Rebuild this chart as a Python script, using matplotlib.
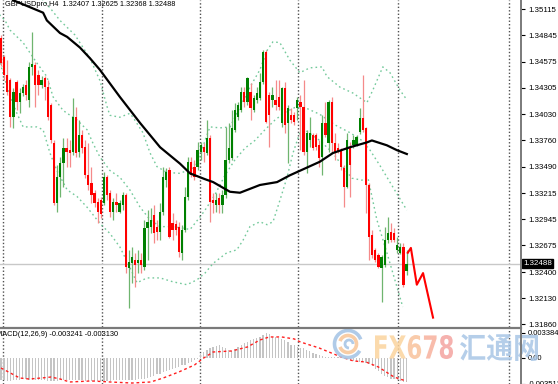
import numpy as np
import matplotlib
matplotlib.use("Agg")
from matplotlib import pyplot as plt
from matplotlib.lines import Line2D
from matplotlib.patches import PathPatch, Rectangle, Arc
from matplotlib.textpath import TextPath
from matplotlib.font_manager import FontProperties
from matplotlib.transforms import Affine2D, IdentityTransform

plt.rcParams['font.family'] = ['Liberation Sans', 'DejaVu Sans']

# GBPUSD H4 candles (open, high, low, close)
opens = [1.3482, 1.3462, 1.3444, 1.3438, 1.3400, 1.3436, 1.3416, 1.3425, 1.3433, 1.3418,
         1.3452, 1.3454, 1.3444, 1.3433, 1.3441, 1.3431, 1.3413, 1.3373, 1.3311, 1.3338,
         1.3353, 1.3368, 1.3366, 1.3364, 1.3400, 1.3364, 1.3382, 1.3369, 1.3340, 1.3332,
         1.3322, 1.3312, 1.3314, 1.3311, 1.3338, 1.3322, 1.3302, 1.3312, 1.3302, 1.3309,
         1.3320, 1.3244, 1.3249, 1.3253, 1.3249, 1.3253, 1.3245, 1.3286, 1.3287, 1.3299,
         1.3287, 1.3281, 1.3302, 1.3335, 1.3345, 1.3291, 1.3290, 1.3287, 1.3260, 1.3284,
         1.3318, 1.3354, 1.3349, 1.3349, 1.3364, 1.3369, 1.3363, 1.3379, 1.3314, 1.3309,
         1.3317, 1.3309, 1.3320, 1.3356, 1.3358, 1.3387, 1.3400, 1.3407, 1.3426, 1.3416,
         1.3426, 1.3407, 1.3418, 1.3420, 1.3436, 1.3467, 1.3423, 1.3418, 1.3418, 1.3421,
         1.3394, 1.3430, 1.3394, 1.3402, 1.3402, 1.3410, 1.3416, 1.3411, 1.3364, 1.3376,
         1.3382, 1.3382, 1.3371, 1.3359, 1.3394, 1.3373, 1.3416, 1.3373, 1.3368, 1.3366,
         1.3348, 1.3328, 1.3369, 1.3371, 1.3371, 1.3385, 1.3399, 1.3389, 1.3330, 1.3278,
         1.3263, 1.3258, 1.3244, 1.3247, 1.3273, 1.3281, 1.3280, 1.3263, 1.3260, 1.3266,
         1.32407]
highs = [1.3485, 1.3464, 1.3459, 1.3441, 1.3430, 1.3438, 1.3430, 1.3434, 1.3438, 1.3457,
         1.3488, 1.3457, 1.3449, 1.3443, 1.3443, 1.3438, 1.3415, 1.3376, 1.3351, 1.3359,
         1.3379, 1.3379, 1.3376, 1.3420, 1.3411, 1.3397, 1.3387, 1.3376, 1.3373, 1.3349,
         1.3325, 1.3317, 1.3318, 1.3343, 1.3340, 1.3325, 1.3317, 1.3322, 1.3314, 1.3323,
         1.3322, 1.3263, 1.3266, 1.3260, 1.3263, 1.3260, 1.3294, 1.3304, 1.3306, 1.3309,
         1.3294, 1.3311, 1.3349, 1.3348, 1.3349, 1.3301, 1.3294, 1.3292, 1.3289, 1.3328,
         1.3359, 1.3359, 1.3356, 1.3374, 1.3374, 1.3373, 1.3397, 1.3382, 1.3322, 1.3322,
         1.3322, 1.3325, 1.3390, 1.3394, 1.3407, 1.3415, 1.3416, 1.3431, 1.3431, 1.3442,
         1.3435, 1.3423, 1.3431, 1.3446, 1.3469, 1.3469, 1.3426, 1.3431, 1.3438, 1.3438,
         1.3431, 1.3436, 1.3413, 1.3410, 1.3405, 1.3421, 1.3423, 1.3438, 1.3387, 1.3400,
         1.3384, 1.3384, 1.3376, 1.3402, 1.3416, 1.3418, 1.3421, 1.3384, 1.3373, 1.3368,
         1.3351, 1.3384, 1.3374, 1.3382, 1.3382, 1.3410, 1.3444, 1.3390, 1.3332, 1.3284,
         1.3265, 1.3260, 1.3258, 1.3287, 1.3297, 1.3291, 1.3286, 1.3276, 1.3270, 1.3270,
         1.32625]
lows = [1.3453, 1.3438, 1.3423, 1.3390, 1.3389, 1.3407, 1.3404, 1.3422, 1.3418, 1.3411,
        1.3444, 1.3411, 1.3423, 1.3430, 1.3418, 1.3397, 1.3373, 1.3309, 1.3302, 1.3318,
        1.3328, 1.3349, 1.3349, 1.3361, 1.3359, 1.3359, 1.3363, 1.3337, 1.3325, 1.3311,
        1.3307, 1.3291, 1.3296, 1.3309, 1.3314, 1.3297, 1.3294, 1.3302, 1.3301, 1.3304,
        1.3239, 1.3203, 1.3229, 1.3225, 1.3239, 1.3239, 1.3242, 1.3253, 1.3280, 1.3270,
        1.3273, 1.3273, 1.3299, 1.3328, 1.3275, 1.3273, 1.3278, 1.3256, 1.3253, 1.3281,
        1.3314, 1.3338, 1.3335, 1.3345, 1.3356, 1.3354, 1.3361, 1.3292, 1.3301, 1.3302,
        1.3301, 1.3301, 1.3317, 1.3353, 1.3356, 1.3385, 1.3397, 1.3405, 1.3411, 1.3413,
        1.3397, 1.3405, 1.3415, 1.3418, 1.3434, 1.3394, 1.3369, 1.3411, 1.3407, 1.3407,
        1.3390, 1.3384, 1.3353, 1.3394, 1.3392, 1.3397, 1.3366, 1.3361, 1.3342, 1.3369,
        1.3366, 1.3366, 1.3349, 1.3340, 1.3380, 1.3364, 1.3364, 1.3356, 1.3363, 1.3345,
        1.3307, 1.3327, 1.3318, 1.3368, 1.3370, 1.3383, 1.3385, 1.3301, 1.3253, 1.3255,
        1.3250, 1.3244, 1.3209, 1.3245, 1.3270, 1.3271, 1.3271, 1.3260, 1.3259, 1.3225,
        1.32368]
closes = [1.3456, 1.3444, 1.3426, 1.3400, 1.3426, 1.3416, 1.3425, 1.3431, 1.3423, 1.3452,
          1.3455, 1.3433, 1.3433, 1.3438, 1.3431, 1.3400, 1.3376, 1.3311, 1.3338, 1.3353,
          1.3368, 1.3364, 1.3363, 1.3400, 1.3363, 1.3382, 1.3368, 1.3340, 1.3330, 1.3320,
          1.3311, 1.3302, 1.3300, 1.3338, 1.3320, 1.3302, 1.3312, 1.3309, 1.3311, 1.3320,
          1.3245, 1.3250, 1.3256, 1.3247, 1.3253, 1.3247, 1.3286, 1.3292, 1.3294, 1.3280,
          1.3281, 1.3302, 1.3338, 1.3343, 1.3276, 1.3284, 1.3284, 1.3261, 1.3284, 1.3318,
          1.3354, 1.3340, 1.3338, 1.3366, 1.3371, 1.3364, 1.3379, 1.3312, 1.3311, 1.3314,
          1.3309, 1.3320, 1.3356, 1.3368, 1.3389, 1.3407, 1.3413, 1.3426, 1.3416, 1.3441,
          1.3410, 1.3420, 1.3425, 1.3436, 1.3467, 1.3395, 1.3402, 1.3423, 1.3413, 1.3411,
          1.3430, 1.3392, 1.3410, 1.3397, 1.3395, 1.3418, 1.3411, 1.3364, 1.3384, 1.3384,
          1.3368, 1.3369, 1.3358, 1.3394, 1.3382, 1.3416, 1.3373, 1.3364, 1.3364, 1.3349,
          1.3328, 1.3376, 1.3351, 1.3376, 1.3380, 1.3399, 1.3387, 1.3330, 1.3276, 1.3258,
          1.3253, 1.3245, 1.3256, 1.3273, 1.3280, 1.3273, 1.3273, 1.3268, 1.3266, 1.3227,
          1.32488]

# moving average (black) and Bollinger bands, read at candle positions
ma_x = [2.5, 3.8, 13.5, 14.7, 18.9, 21.2, 25.3, 28.5, 31.7, 38.1, 44.6, 51.0, 57.4, 60.6, 65.4,
        68.0, 73.4, 76.6, 83.0, 88.5, 92.6, 97.4, 102.2, 106.4, 111.9, 117.3, 118.9, 123.7, 126.9, 130.1]
ma_y = [1.3528, 1.3521, 1.3508, 1.3500, 1.3487, 1.3483, 1.3472, 1.3461, 1.3449, 1.3421, 1.3394,
        1.3369, 1.3352, 1.3342, 1.3336, 1.3333, 1.3323, 1.3322, 1.3330, 1.3333, 1.3340, 1.3347,
        1.3354, 1.3363, 1.3369, 1.3374, 1.3376, 1.3371, 1.3366, 1.3362]

bb_up_x = [11.0, 13.5, 15.7, 18.9, 23.7, 28.5, 31.7, 34.0, 34.9, 38.1, 41.3, 42.3, 45.5, 47.8, 50.0,
           53.2, 57.4, 61.2, 63.8, 65.4, 67.0, 70.2, 73.4, 75.6, 79.8, 83.0, 85.3, 87.2, 89.4, 92.6,
           95.8, 99.0, 102.9, 104.5, 108.7, 112.8, 117.3, 119.2, 122.4, 124.7, 127.9, 130.1]
bb_up_y = [1.3530, 1.3521, 1.3513, 1.3500, 1.3485, 1.3461, 1.3438, 1.3411, 1.3402, 1.3400, 1.3404,
           1.3400, 1.3384, 1.3363, 1.3349, 1.3343, 1.3342, 1.3347, 1.3359, 1.3376, 1.3390, 1.3389,
           1.3390, 1.3404, 1.3431, 1.3449, 1.3469, 1.3478, 1.3477, 1.3459, 1.3446, 1.3451, 1.3452,
           1.3442, 1.3431, 1.3425, 1.3415, 1.3428, 1.3452, 1.3446, 1.3428, 1.3418]

bb_mid_x = [-0.5, 1.3, 2.9, 7.1, 11.5, 14.7, 16.7, 19.9, 24.4, 27.6, 29.5, 31.7, 34.9, 38.1, 41.3,
            44.6, 47.8, 51.0, 54.2, 57.4, 60.6, 63.8, 65.4, 68.6, 71.8, 75.0, 78.2, 81.4, 84.6, 87.8,
            91.0, 94.2, 97.4, 102.2, 107.1, 111.9, 115.7, 118.3, 121.5, 125.6, 130.1]
bb_mid_y = [1.3506, 1.3500, 1.3490, 1.3477, 1.3456, 1.3442, 1.3421, 1.3407, 1.3397, 1.3387, 1.3373,
            1.3359, 1.3345, 1.3338, 1.3325, 1.3307, 1.3294, 1.3287, 1.3287, 1.3286, 1.3284, 1.3297,
            1.3304, 1.3320, 1.3340, 1.3356, 1.3368, 1.3376, 1.3387, 1.3397, 1.3405, 1.3410, 1.3410,
            1.3403, 1.3392, 1.3384, 1.3376, 1.3366, 1.3350, 1.3328, 1.3304]

bb_lo_x = [-0.3, 2.9, 5.1, 7.1, 11.5, 13.5, 15.7, 17.9, 21.2, 24.4, 27.6, 30.8, 32.7, 34.9, 38.1,
           41.3, 43.6, 46.8, 51.0, 55.1, 59.6, 62.8, 65.4, 68.0, 72.4, 75.6, 77.6, 79.8, 83.0, 85.3,
           87.2, 89.4, 91.7, 93.6, 95.8, 97.4, 102.2, 106.4, 109.6, 112.5, 115.7, 117.6, 120.5,
           123.7, 126.9, 128.8]
bb_lo_y = [1.3456, 1.3421, 1.3404, 1.3390, 1.3390, 1.3387, 1.3363, 1.3345, 1.3325, 1.3318, 1.3307,
           1.3294, 1.3287, 1.3280, 1.3266, 1.3245, 1.3229, 1.3234, 1.3234, 1.3230, 1.3227, 1.3232,
           1.3239, 1.3249, 1.3260, 1.3263, 1.3273, 1.3287, 1.3292, 1.3289, 1.3292, 1.3314, 1.3338,
           1.3363, 1.3384, 1.3387, 1.3376, 1.3363, 1.3349, 1.3337, 1.3335, 1.3338, 1.3294, 1.3260,
           1.3225, 1.3204]

# forecast arrow
arrow_x = [130.4, 131.4, 133.3, 135.3, 138.5]
arrow_y = [1.3260, 1.3265, 1.3227, 1.3239, 1.3193]

# MACD(12,26,9)
macd_hist = [-0.0030, -0.0030, -0.0031, -0.0031, -0.0030, -0.0030, -0.0030, -0.0029, -0.0029, -0.0030,
             -0.0030, -0.0030, -0.0030, -0.0030, -0.0030, -0.0031, -0.0031, -0.0031, -0.0031, -0.0030,
             -0.0030, -0.0030, -0.0030, -0.0030, -0.0030, -0.0030, -0.0030, -0.0031, -0.0031, -0.0031,
             -0.0031, -0.0031, -0.0031, -0.0031, -0.0031, -0.0031, -0.0030, -0.0030, -0.0030, -0.0030,
             -0.0030, -0.0030, -0.0030, -0.0030, -0.0029, -0.0029, -0.0028, -0.0027, -0.0025, -0.0024,
             -0.0022, -0.0021, -0.0019, -0.0018, -0.0016, -0.0015, -0.0013, -0.0012, -0.0010, -0.0009,
             -0.0007, -0.0005, -0.0003, -0.0001,
             0.0006, 0.0008, 0.0011, 0.0014, 0.0015, 0.0016, 0.0017, 0.0015, 0.0013, 0.0011,
             0.0010, 0.0012, 0.0015, 0.0018, 0.0020, 0.0022, 0.0024, 0.0025, 0.0027, 0.0028,
             0.0031, 0.0034, 0.0032, 0.0029, 0.0028, 0.0027, 0.0025, 0.0024, 0.0021, 0.0018, 0.0017, 0.0015,
             0.0014, 0.0013, 0.0011, 0.0009, 0.0007, 0.0005, 0.0004, 0.0003, 0.0002, 0.0001, 0.0001,
             0.0002, 0.0001, 0.0000,
             -0.0001, -0.0002, -0.0003, -0.0004, -0.0004, -0.0005, -0.0006, -0.0007, -0.0008,
             -0.0011, -0.0015, -0.0018, -0.0021, -0.0024, -0.0026, -0.0028, -0.0029, -0.0030, -0.0031,
             -0.0032, -0.0032]
sig_x = [0, 6, 9, 13, 16, 19, 22, 29, 35, 42, 48, 52, 57, 62, 65, 68, 74, 79, 83, 86, 90, 94, 96,
         102, 109, 113, 117, 121, 126, 130]
sig_y = [-0.00135, -0.00270, -0.00284, -0.00270, -0.00257, -0.00284, -0.00324, -0.00310, -0.00324,
         -0.00338, -0.00324, -0.00270, -0.00189, -0.00095, 0.0, 0.00081, 0.00095, 0.00149, 0.00243,
         0.00284, 0.00284, 0.00257, 0.00216, 0.00135, 0.00014, -0.00040, -0.00054, -0.00122,
         -0.00257, -0.00313]

price_ticks = [1.35115, 1.34845, 1.34575, 1.34305, 1.34030, 1.33760, 1.33490, 1.33215,
               1.32945, 1.32675, 1.32400, 1.32130, 1.31860]
macd_ticks = [0.003384, 0.0, -0.003512]
macd_labels = ['0.003384', '0.00', '-0.003512']
separators = [0.6, 32.4, 63.8, 95.2, 127.2, 162.8]
last_price = 1.32488

W, H = 558, 384
fig = plt.figure(figsize=(W / 100, H / 100), dpi=100)
fig.patch.set_facecolor('white')
ax = fig.add_axes([0, 57 / H, 521 / W, 327 / H])
mx = fig.add_axes([0, 0, 521 / W, 55 / H])

xlim = (-0.32, 166.7)
for a in (ax, mx):
    a.set_xlim(*xlim)
    a.set_xticks([])
    for s in a.spines.values():
        s.set_visible(False)
    for xs in separators:
        a.axvline(xs, color='#505050', lw=1, ls=(0, (1, 1.5)), zorder=1)

ax.set_ylim(1.31833, 1.35211)
mx.set_ylim(-0.00351, 0.003915)

# price axis
ax.yaxis.tick_right()
ax.set_yticks(price_ticks)
ax.set_yticklabels(['%.5f' % t for t in price_ticks])
ax.tick_params(axis='y', length=3, width=0.8, pad=2, labelsize=5.7, colors='black')
mx.yaxis.tick_right()
mx.set_yticks(macd_ticks)
mx.set_yticklabels(macd_labels)
mx.tick_params(axis='y', length=3, width=0.8, pad=1.5, labelsize=5.5, colors='black')

# current price line
ax.axhline(last_price, color='#c8c8c8', lw=1, zorder=1)

# bollinger bands and moving average
bb_style = dict(color='#5cc08a', lw=1, ls=(0, (1.2, 2.2)), alpha=0.85, zorder=2)
ax.plot(bb_up_x, bb_up_y, **bb_style)
ax.plot(bb_mid_x, bb_mid_y, **bb_style)
ax.plot(bb_lo_x, bb_lo_y, **bb_style)

# candles
idx = np.arange(len(opens))
o = np.array(opens)
c = np.array(closes)
up = c >= o
ax.vlines(idx[up], np.array(lows)[up], np.array(highs)[up], color='#6fb56f', lw=0.9, zorder=3)
ax.vlines(idx[~up], np.array(lows)[~up], np.array(highs)[~up], color='#f58a8a', lw=0.9, zorder=3)
bottoms = np.minimum(o, c)
heights = np.maximum(np.abs(c - o), 0.00004)
ax.bar(idx[up], heights[up], bottom=bottoms[up], width=0.72, color='#008000', zorder=4)
ax.bar(idx[~up], heights[~up], bottom=bottoms[~up], width=0.72, color='#ff0000', zorder=4)

ax.plot(ma_x, ma_y, color='black', lw=1.6, zorder=5)
ax.plot(arrow_x, arrow_y, color='#ff0000', lw=1.5, zorder=5)

# last price box
ax.text(1.004, last_price, '%.5f' % last_price, transform=ax.get_yaxis_transform(),
        ha='left', va='center', fontsize=5.7, color='white', zorder=10, clip_on=False,
        bbox=dict(boxstyle='square,pad=0.15', fc='black', ec='black'))

# MACD panel
mx.bar(idx, macd_hist, width=0.4, color='#c4c4c4', zorder=2)
mx.plot(sig_x, sig_y, color='#ff2020', lw=1, ls=(0, (2, 2)), zorder=3)

# titles
fig.text(5 / W, 1 - 5 / H, 'GBPUSDpro,H4  1.32407 1.32625 1.32368 1.32488',
         ha='left', va='center', fontsize=5.3, color='black')
fig.text(-4 / W, 1 - 335 / H, 'MACD(12,26,9) -0.003241 -0.003130',
         ha='left', va='center', fontsize=5.3, color='black')

# frame lines
fig.add_artist(Line2D([0, 521 / W], [1 - 328 / H, 1 - 328 / H], color='#7a7a7a', lw=1.6))
fig.add_artist(Line2D([521 / W, 521 / W], [0, 1], color='#7a7a7a', lw=1.4))


# watermark
def word(text, family, x0, y0, w, h):
    tp = TextPath((0, 0), text, size=10, prop=FontProperties(family=family, weight='bold'))
    ext = tp.get_extents()
    tr = Affine2D().translate(-ext.x0, -ext.y0).scale(w / ext.width, h / ext.height).translate(x0, y0)
    p = PathPatch(tp, transform=tr, fc='none', ec='none')
    fig.add_artist(p)
    return p


fx = word('FX678', 'DejaVu Sans', 375, 25, 78, 24)
for xa, xb, col in [(370, 405, '#fbd49e'), (405, 421, '#f9c29b'), (421, 437, '#f7b19d'),
                    (437, 460, '#f4a4a0')]:
    r = Rectangle((xa, 20), xb - xa, 34, transform=IdentityTransform(), fc=col, ec='none', alpha=0.85)
    r.set_clip_path(fx)
    fig.add_artist(r)

cn = word('汇通网', 'Noto Sans CJK SC', 460, 23, 78, 27)
r = Rectangle((455, 18), 90, 38, transform=IdentityTransform(), fc='#a8c6e6', ec='none', alpha=0.85)
r.set_clip_path(cn)
fig.add_artist(r)

# logo swirl
cx, cy = 348, 40
fig.add_artist(Arc((cx, cy), 27, 27, theta1=20, theta2=330, transform=IdentityTransform(),
                   color='#a8c6e6', lw=2.6, alpha=0.9))
fig.add_artist(Arc((cx, cy), 17, 17, theta1=200, theta2=520, transform=IdentityTransform(),
                   color='#f8c89c', lw=2.6, alpha=0.9))
fig.add_artist(Arc((cx + 1, cy), 8, 8, theta1=0, theta2=270, transform=IdentityTransform(),
                   color='#a8c6e6', lw=2.0, alpha=0.9))

fig.savefig('out.png', dpi=100, facecolor='white')
